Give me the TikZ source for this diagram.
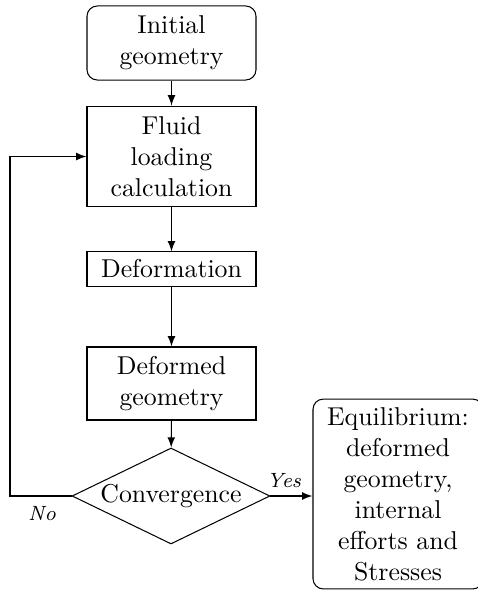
\documentclass[tikz,border=0pt]{standalone}
\usetikzlibrary{shapes.geometric,arrows}
\begin{document}
\begin{tikzpicture}[x=0.3876pt,y=-0.3876pt,
  box/.style={draw,thin,align=center,inner sep=0pt,minimum width=65.5pt},
  rbox/.style={box,rounded corners=4pt},
  cond/.style={draw,thin,diamond,aspect=2.06,inner sep=0pt,minimum width=76.7pt,minimum height=37.2pt},
  lbl/.style={font=\footnotesize\itshape},
  arr/.style={-latex,thin}]
\useasboundingbox (0,0) rectangle (478,593);
\clip (0,0) rectangle (478,593);
\node[rbox,minimum height=28.7pt] (init) at (171.5,43) {Initial\\geometry};
\node[box,minimum height=39.1pt] (fluid) at (171.5,156.5) {Fluid\\loading\\calculation};
\node[box,minimum height=13.2pt] (def) at (171.5,269) {Deformation};
\node[box,minimum height=28.3pt] (defg) at (171.5,383.5) {Deformed\\geometry};
\node[cond] (conv) at (171,496) {Convergence};
\node[rbox,minimum width=65.9pt,minimum height=73.6pt] (eq) at (398,494) {Equilibrium:\\deformed\\geometry,\\internal\\efforts and\\Stresses};
\coordinate (c1) at (10,496);
\coordinate (c2) at (10,156.5);
\draw[arr] (init) -- (fluid);
\draw[arr] (fluid) -- (def);
\draw[arr] (def) -- (defg);
\draw[arr] (defg) -- (conv);
\draw[arr] (conv.east) -- (eq.west |- conv.east);
\draw[arr] (conv.west) -- (c1) -- (c2) -- (fluid.west);
\node[lbl] (no) at (42,514) {No};
\node[lbl] (yes) at (284,481) {Yes};
\end{tikzpicture}
\end{document}
